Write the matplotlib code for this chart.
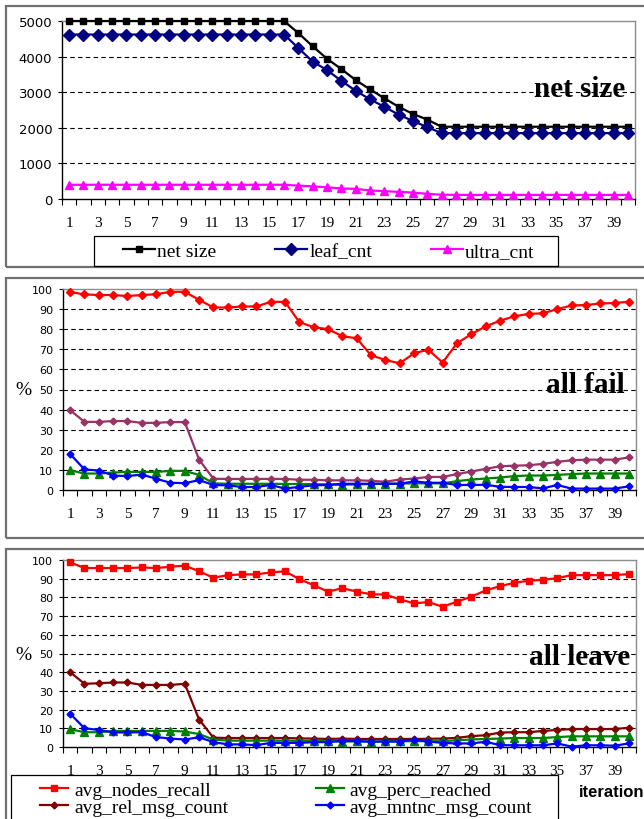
import matplotlib
matplotlib.use("Agg")
import matplotlib.pyplot as plt
from matplotlib.patches import Rectangle
import numpy as np

W, H = 644, 820

# ---- data -------------------------------------------------------------
iterations = list(range(1, 41))
x_tick_labels = [str(i) for i in range(1, 41, 2)]

net_size = [5000, 5000, 5000, 5000, 5000, 5000, 5000, 5000, 5000, 5000,
            5000, 5000, 5000, 5000, 5000, 5000, 4660, 4290, 3940, 3650,
            3340, 3080, 2830, 2590, 2390, 2230, 2030, 2030, 2030, 2030,
            2030, 2030, 2030, 2030, 2030, 2030, 2030, 2030, 2030, 2030]
leaf_cnt = [4620, 4620, 4620, 4620, 4620, 4620, 4620, 4620, 4620, 4620,
            4620, 4620, 4620, 4620, 4620, 4620, 4240, 3860, 3620, 3320,
            3040, 2800, 2590, 2370, 2190, 2020, 1850, 1850, 1850, 1850,
            1850, 1850, 1850, 1850, 1850, 1850, 1850, 1850, 1850, 1850]
ultra_cnt = [400, 400, 400, 400, 400, 400, 400, 400, 400, 400,
             400, 400, 400, 400, 400, 400, 375, 355, 330, 295,
             285, 240, 220, 200, 180, 145, 120, 115, 115, 115,
             115, 115, 115, 115, 115, 115, 115, 115, 115, 115]

# all fail
fail_nodes_recall = [98.5, 97.3, 97.0, 97.0, 96.5, 97.0, 97.4, 98.6, 98.6, 94.6,
                     90.8, 90.8, 91.3, 91.3, 93.6, 93.6, 83.5, 81.0, 80.0, 76.5,
                     75.5, 67.0, 64.7, 63.0, 68.0, 69.8, 63.4, 73.0, 77.5, 81.4,
                     84.2, 86.4, 87.6, 87.9, 90.0, 91.8, 92.0, 92.8, 93.0, 93.7]
fail_rel_msg_count = [39.7, 33.9, 33.9, 34.3, 34.3, 33.4, 33.4, 33.8, 33.8, 15.1,
                      5.6, 5.5, 5.5, 5.5, 5.5, 5.5, 5.1, 5.1, 4.8, 4.8,
                      4.8, 4.6, 4.1, 5.2, 5.7, 6.5, 6.5, 7.9, 9.2, 10.5,
                      11.8, 12.1, 12.3, 13.0, 14.0, 14.8, 15.1, 15.1, 15.1, 16.2]
fail_perc_reached = [9.8, 8.2, 8.2, 8.7, 9.0, 9.0, 9.0, 9.5, 9.5, 7.5,
                     3.3, 3.1, 3.1, 3.1, 3.1, 3.0, 3.0, 2.9, 2.8, 2.6,
                     2.8, 3.0, 3.1, 3.2, 3.3, 3.3, 3.3, 4.4, 5.2, 5.7,
                     6.2, 6.9, 7.2, 7.2, 7.5, 7.9, 8.2, 8.2, 8.2, 8.2]
fail_mntnc_msg_count = [17.9, 10.2, 9.7, 7.2, 6.9, 7.7, 5.6, 3.6, 3.4, 4.9,
                        2.5, 2.3, 1.5, 1.5, 2.5, 0.7, 1.6, 2.3, 2.5, 3.1,
                        3.1, 3.1, 3.1, 3.1, 4.3, 3.6, 3.6, 2.5, 2.5, 2.6,
                        1.6, 1.5, 1.5, 0.8, 2.5, 0.7, 0.7, 0.7, 0.7, 1.8]

# all leave
leave_nodes_recall = [98.7, 95.7, 95.7, 95.7, 95.7, 96.0, 95.7, 96.4, 97.0, 94.0,
                      90.5, 91.9, 92.3, 92.3, 93.4, 93.9, 89.8, 86.5, 83.1, 84.9,
                      83.1, 81.7, 81.5, 79.0, 76.8, 77.5, 75.0, 77.7, 80.4, 83.7,
                      86.0, 87.8, 88.9, 89.4, 90.3, 91.9, 91.9, 91.9, 91.9, 92.5]
leave_rel_msg_count = [40.0, 33.8, 34.1, 34.5, 34.5, 33.2, 33.2, 33.2, 33.8, 14.7,
                       5.0, 4.8, 4.8, 4.8, 4.8, 4.8, 4.6, 4.5, 4.3, 4.5,
                       4.3, 4.3, 4.3, 4.3, 4.3, 4.4, 4.5, 4.9, 5.8, 6.3,
                       7.7, 7.9, 7.9, 8.6, 9.1, 9.6, 9.6, 9.6, 9.6, 10.3]
leave_perc_reached = [9.5, 7.9, 7.9, 8.6, 8.6, 8.6, 8.6, 8.6, 8.3, 6.9,
                      4.0, 3.4, 3.4, 3.4, 3.4, 3.4, 3.3, 3.3, 3.2, 2.8,
                      3.1, 2.8, 3.1, 3.1, 3.1, 3.1, 3.1, 3.6, 4.0, 4.3,
                      4.5, 4.8, 4.8, 4.8, 5.3, 5.7, 5.7, 5.7, 5.7, 5.7]
leave_mntnc_msg_count = [17.8, 10.0, 9.1, 7.8, 7.8, 7.9, 5.3, 4.5, 4.0, 5.2,
                         2.6, 1.4, 1.4, 1.0, 2.2, 2.2, 2.2, 2.6, 2.6, 3.4,
                         3.1, 2.9, 2.9, 2.9, 4.0, 2.9, 2.2, 1.9, 1.9, 2.8,
                         1.0, 0.9, 0.9, 0.9, 1.9, 0.2, 0.9, 0.9, 0.7, 1.9]

# ---- helpers ----------------------------------------------------------
SERIF = ['Liberation Serif', 'DejaVu Serif']
SANS = ['DejaVu Sans']


def px_rect(l, t, r, b):
    return [l / W, 1 - b / H, (r - l) / W, (b - t) / H]


def fig_xy(x, y):
    return (x / W, 1 - y / H)


def frame(fig, l, t, r, b, color, lw):
    fig.patches.append(Rectangle(fig_xy(l, b), (r - l) / W, (b - t) / H,
                                 transform=fig.transFigure, fill=False,
                                 edgecolor=color, linewidth=lw, zorder=0))


def style_axes(ax, ymax, ystep, ysize):
    ax.set_xlim(0.5, 40.5)
    ax.set_ylim(0, ymax)
    ax.set_xticks(iterations[::2])
    ax.set_xticklabels(x_tick_labels, fontfamily=SERIF, fontsize=11)
    ax.set_xticks(np.arange(0.5, 41, 1), minor=True)
    ax.tick_params(axis='x', which='major', length=0, pad=12)
    ax.tick_params(axis='x', which='minor', length=4.5, width=0.8,
                   direction='out', color='black')
    yt = np.arange(0, ymax + 1, ystep)
    ax.set_yticks(yt)
    ax.set_yticklabels([str(int(v)) for v in yt], fontfamily=SANS,
                       fontsize=ysize)
    ax.tick_params(axis='y', length=3, width=0.8, direction='out', pad=4)
    for v in yt[1:-1]:
        ax.axhline(v, color='black', lw=0.8, dashes=(4, 3), zorder=1)
    for s in ('left', 'bottom'):
        ax.spines[s].set_color('black')
        ax.spines[s].set_linewidth(1.0)
    for s in ('top', 'right'):
        ax.spines[s].set_color('#8c8c8c')
        ax.spines[s].set_linewidth(1.0)


fig = plt.figure(figsize=(W / 100, H / 100), dpi=100)
fig.patch.set_facecolor('white')

# panel frames
frame(fig, 6, 7, 660, 268, '#707070', 1.6)
frame(fig, 6, 279, 660, 539, '#707070', 1.6)
frame(fig, 6, 550, 660, 840, '#707070', 1.6)

# ---- panel 1: net size -------------------------------------------------
ax1 = fig.add_axes(px_rect(62, 22, 635, 200))
style_axes(ax1, 5000, 1000, 9.5)
ax1.plot(iterations, net_size, color='black', lw=1.6, marker='s', ms=4.5,
         label='net size', clip_on=False, zorder=3)
ax1.plot(iterations, leaf_cnt, color='#000080', lw=1.6, marker='D', ms=6.5,
         label='leaf_cnt', clip_on=False, zorder=3)
ax1.plot(iterations, ultra_cnt, color='#ff00ff', lw=1.6, marker='^', ms=5.5,
         label='ultra_cnt', clip_on=False, zorder=3)
fig.text(625 / W, 1 - 97 / H, 'net size', ha='right', va='baseline',
         fontfamily=SERIF, fontweight='bold', fontsize=21)
ax1.legend(loc='center left', bbox_to_anchor=fig_xy(123, 252),
           bbox_transform=fig.transFigure, ncol=3, frameon=False,
           borderpad=0, borderaxespad=0, handlelength=1.65,
           handletextpad=0.12, columnspacing=3.0,
           prop={'family': SERIF, 'size': 14})
frame(fig, 94, 237, 558, 267, 'black', 0.9)

# ---- panel 2: all fail -------------------------------------------------
ax2 = fig.add_axes(px_rect(63, 290, 636, 491))
style_axes(ax2, 100, 10, 8)
ax2.plot(iterations, fail_nodes_recall, color='#ff0000', lw=1.6, marker='D',
         ms=4, zorder=3, clip_on=False)
ax2.plot(iterations, fail_rel_msg_count, color='#993366', lw=1.6, marker='D',
         ms=3.5, zorder=3, clip_on=False)
ax2.plot(iterations, fail_perc_reached, color='#008000', lw=1.6, marker='^',
         ms=5.5, zorder=3, clip_on=False)
ax2.plot(iterations, fail_mntnc_msg_count, color='#0000ff', lw=1.6,
         marker='D', ms=3.5, zorder=4, clip_on=False)
fig.text(23 / W, 1 - 391 / H, '%', ha='center', va='center',
         fontfamily=SERIF, fontsize=14)
fig.text(625 / W, 1 - 393 / H, 'all fail', ha='right', va='baseline',
         fontfamily=SERIF, fontweight='bold', fontsize=21)

# ---- panel 3: all leave ------------------------------------------------
ax3 = fig.add_axes(px_rect(63, 561, 636, 748))
style_axes(ax3, 100, 10, 8)
ax3.plot(iterations, leave_nodes_recall, color='#ff0000', lw=1.6, marker='s',
         ms=5, zorder=3, clip_on=False, label='avg_nodes_recall')
ax3.plot(iterations, leave_rel_msg_count, color='#800000', lw=1.6,
         marker='D', ms=3.5, zorder=3, clip_on=False,
         label='avg_rel_msg_count')
ax3.plot(iterations, leave_perc_reached, color='#008000', lw=1.6, marker='^',
         ms=5.5, zorder=3, clip_on=False, label='avg_perc_reached')
ax3.plot(iterations, leave_mntnc_msg_count, color='#0000ff', lw=1.6,
         marker='D', ms=3.5, zorder=4, clip_on=False,
         label='avg_mntnc_msg_count')
fig.text(23 / W, 1 - 656 / H, '%', ha='center', va='center',
         fontfamily=SERIF, fontsize=14)
fig.text(630 / W, 1 - 665 / H, 'all leave', ha='right', va='baseline',
         fontfamily=SERIF, fontweight='bold', fontsize=21)
ax3.legend(loc='upper left', bbox_to_anchor=fig_xy(40, 782),
           bbox_transform=fig.transFigure, ncol=2, frameon=False,
           borderpad=0, borderaxespad=0, handlelength=1.45,
           handletextpad=0.3, columnspacing=4.5, labelspacing=0.0,
           prop={'family': SERIF, 'size': 14})
frame(fig, 11, 776, 558, 840, 'black', 0.9)
fig.text(579 / W, 1 - 793 / H, 'iteration', ha='left', va='center',
         fontfamily=['Liberation Sans', 'DejaVu Sans'], fontweight='bold',
         fontsize=12)

fig.savefig('out.png', dpi=100, facecolor='white')
